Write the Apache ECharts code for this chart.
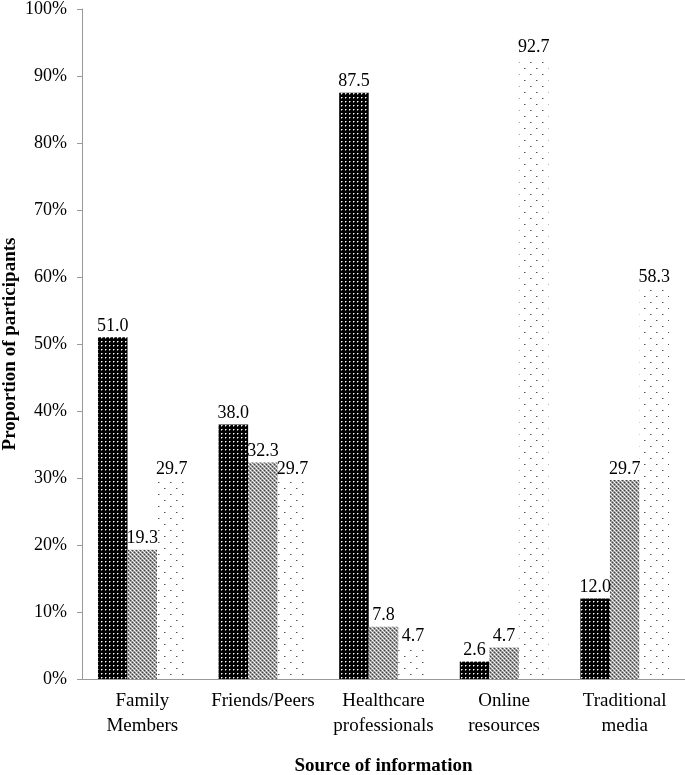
<!DOCTYPE html>
<html>
<head>
<meta charset="utf-8">
<script src="https://cdn.jsdelivr.net/npm/echarts@6/dist/echarts.min.js"></script>
<style>html,body{margin:0;padding:0;background:#fff}#c{width:685px;height:775px}</style>
</head>
<body>
<div id="c"></div>
<script>
var categories = ['Family\nMembers', 'Friends/Peers', 'Healthcare\nprofessionals', 'Online\nresources', 'Traditional\nmedia'];
var seriesA = [51.0, 38.0, 87.5, 2.6, 12.0];
var seriesB = [19.3, 32.3, 7.8, 4.7, 29.7];
var seriesC = [29.7, 29.7, 4.7, 92.7, 58.3];
var yTicks = [0, 10, 20, 30, 40, 50, 60, 70, 80, 90, 100];

function makePattern(kind) {
  var c = document.createElement('canvas');
  var ctx = c.getContext('2d');
  if (kind === 'dark') {
    c.width = 4; c.height = 4;
    ctx.fillStyle = '#000'; ctx.fillRect(0, 0, 4, 4);
    ctx.fillStyle = '#fff'; ctx.fillRect(1, 1, 1, 1);
    ctx.fillStyle = '#777'; ctx.fillRect(2, 1, 1, 1); ctx.fillRect(1, 2, 1, 1);
  } else if (kind === 'gray') {
    c.width = 4; c.height = 4;
    ctx.fillStyle = '#9a9a9a'; ctx.fillRect(0, 0, 4, 4);
    ctx.fillStyle = '#fff'; ctx.fillRect(0, 0, 1, 1); ctx.fillRect(2, 2, 1, 1);
    ctx.fillStyle = '#444'; ctx.fillRect(2, 0, 1, 1); ctx.fillRect(0, 2, 1, 1);
    ctx.fillStyle = '#ddd'; ctx.fillRect(1, 1, 1, 1); ctx.fillRect(3, 3, 1, 1);
  } else {
    c.width = 12; c.height = 12;
    ctx.fillStyle = '#fff'; ctx.fillRect(0, 0, 12, 12);
    ctx.fillStyle = '#555'; ctx.fillRect(2, 2, 1, 1); ctx.fillRect(8, 8, 1, 1);
    ctx.fillStyle = '#aaa'; ctx.fillRect(3, 2, 1, 1); ctx.fillRect(9, 8, 1, 1);
  }
  return { image: c, repeat: 'repeat' };
}

var font = 'Liberation Serif';
function lbl() {
  return { show: true, position: 'top', distance: 2, fontFamily: font, fontSize: 18, color: '#000',
    formatter: function (p) { return p.value.toFixed(1); } };
}

var chart = echarts.init(document.getElementById('c'));
chart.setOption({
  animation: false,
  backgroundColor: '#fff',
  grid: { left: 82, right: 0, top: 9, bottom: 96, containLabel: false, outerBoundsMode: 'none' },
  xAxis: {
    type: 'category', data: categories,
    axisLine: { lineStyle: { color: '#999', width: 1 } },
    axisTick: { show: false },
    axisLabel: { fontFamily: font, fontSize: 19, color: '#000', lineHeight: 25, margin: 10, interval: 0 },
    name: 'Source of information', nameLocation: 'middle', nameGap: 78, nameMoveOverlap: false,
    nameTextStyle: { fontFamily: font, fontSize: 19, fontWeight: 'bold', color: '#000' }
  },
  yAxis: {
    type: 'value', min: 0, max: 100, interval: 10,
    axisLine: { show: true, lineStyle: { color: '#999', width: 1 } },
    axisTick: { show: true, length: 5, lineStyle: { color: '#999' } },
    splitLine: { show: false },
    axisLabel: { fontFamily: font, fontSize: 18, color: '#000', margin: 15,
      formatter: function (v) { return yTicks.indexOf(v) >= 0 ? v + '%' : ''; } },
    name: 'Proportion of participants', nameLocation: 'middle', nameGap: 62, nameMoveOverlap: false,
    nameTextStyle: { fontFamily: font, fontSize: 19, fontWeight: 'bold', color: '#000' }
  },
  series: [
    { type: 'bar', data: seriesA, barGap: '0%', barCategoryGap: '26.5%',
      itemStyle: { color: makePattern('dark') }, label: lbl() },
    { type: 'bar', data: seriesB, barGap: '0%', barCategoryGap: '26.5%',
      itemStyle: { color: makePattern('gray') }, label: lbl() },
    { type: 'bar', data: seriesC, barGap: '0%', barCategoryGap: '26.5%',
      itemStyle: { color: makePattern('light') }, label: lbl() }
  ]
});
</script>
</body>
</html>
